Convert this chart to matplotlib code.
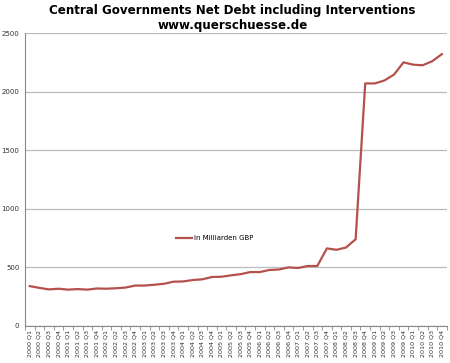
import matplotlib
matplotlib.use("Agg")
import matplotlib.pyplot as plt
import numpy as np

years = list(range(2000, 2011))
quarters = [f"{y} Q{q}" for y in years for q in range(1, 5)]
values = [340, 325, 312, 318,
          310, 315, 310, 320,
          318, 322, 328, 345,
          345, 352, 360, 378,
          380, 392, 398, 418,
          420, 432, 442, 460,
          460, 478, 482, 500,
          495, 512, 512, 662,
          650, 670, 740, 2070,
          2070, 2095, 2145, 2250,
          2230, 2225, 2260, 2320]
series_name = "in Milliarden GBP"
yticks = [0, 500, 1000, 1500, 2000, 2500]

fig = plt.figure(figsize=(4.5, 3.63), dpi=100)
ax = fig.add_axes([0.0556, 0.102, 0.937, 0.807])
x = np.arange(len(quarters))
ax.plot(x, values, color="#B5504D", lw=1.6, label=series_name)
ax.set_xlim(-0.5, len(quarters) - 0.5)
ax.set_ylim(0, 2500)
ax.set_yticks(yticks)
ax.set_yticklabels([str(v) for v in yticks], fontsize=5.0, color="#333333")
ax.yaxis.grid(True, color="#BBBBBB", lw=0.9)
ax.set_axisbelow(True)
ax.set_xticks(x)
ax.set_xticklabels(quarters, rotation=90, fontsize=4.6, color="#333333")
ax.set_xticks(np.arange(-0.5, len(quarters), 1), minor=True)
ax.tick_params(axis="x", which="major", length=0, pad=3)
ax.tick_params(axis="x", which="minor", length=3, color="#888888", direction="out")
ax.tick_params(axis="y", length=0, pad=4)
for s in ["top", "right"]:
    ax.spines[s].set_visible(False)
ax.spines["left"].set_color("#888888")
ax.spines["bottom"].set_color("#888888")
ax.spines["left"].set_linewidth(0.8)
ax.spines["bottom"].set_linewidth(0.8)

fig.text(0.517, 0.972, "Central Governments Net Debt including Interventions",
         ha="center", va="center", fontsize=8.6, fontweight="bold", family="DejaVu Sans")
fig.text(0.517, 0.930, "www.querschuesse.de",
         ha="center", va="center", fontsize=8.6, fontweight="bold", family="DejaVu Sans")

leg = ax.legend(loc="center", bbox_to_anchor=(0.45, 0.3), frameon=False,
                fontsize=5.0, handlelength=2.2, handletextpad=0.3)
fig.savefig("out.png", dpi=100, facecolor="white")
